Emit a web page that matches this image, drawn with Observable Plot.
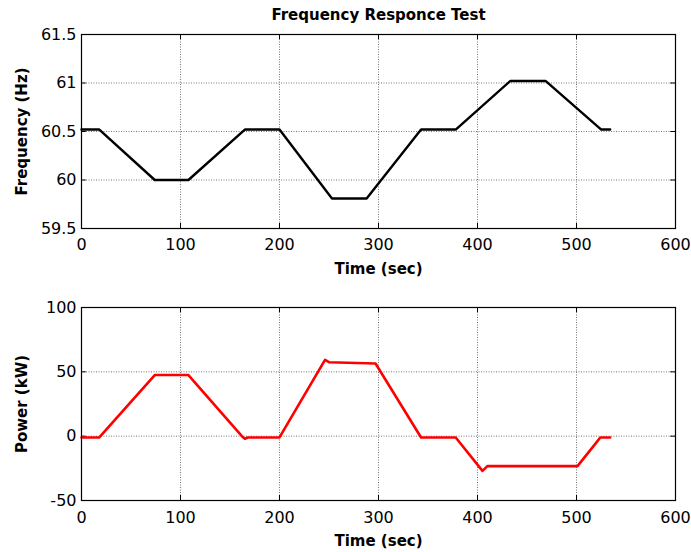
<!DOCTYPE html>
<html>
<head>
<meta charset="utf-8">
<script src="https://cdn.jsdelivr.net/npm/d3@7"></script>
<script src="https://cdn.jsdelivr.net/npm/@observablehq/plot@0.6"></script>
<style>
  html, body { margin: 0; padding: 0; background: #fff; }
  #chart svg { display: block; }
</style>
</head>
<body>
<div id="chart"></div>
<script>
const title = "Frequency Responce Test";
const xLabel = "Time (sec)";
const freqLabel = "Frequency (Hz)";
const powerLabel = "Power (kW)";

const xTicks = [0, 100, 200, 300, 400, 500, 600];
const freqTicks = [59.5, 60, 60.5, 61, 61.5];
const powerTicks = [-50, 0, 50, 100];

const freqTime = [0, 18, 74, 108, 165, 200, 253, 288, 343, 378, 433, 469, 525, 534];
const freqValue = [60.52, 60.52, 60.0, 60.0, 60.52, 60.52, 59.81, 59.81, 60.52, 60.52, 61.02, 61.02, 60.52, 60.52];

const powerTime = [0, 18, 74, 108, 162, 165, 168, 200, 246, 250, 297, 343, 378, 405, 410, 501, 520, 524, 534];
const powerValue = [-1, -1, 47.5, 47.5, 0, -2, -1, -1, 59.3, 57.5, 56.5, -1, -1, -27, -23.3, -23.3, -5, -1, -1];

const freqData = freqTime.map((t, i) => ({t, v: freqValue[i]}));
const powerData = powerTime.map((t, i) => ({t, v: powerValue[i]}));

const W = 691;
const FONT = "DejaVu Sans, Verdana, sans-serif";

function panel({data, yDomain, yTicks, yLabel, color, sw, height, mTop, mBottom, xPad, withTitle}) {
  const tickLenX = (yDomain[1] - yDomain[0]) * 0.026;
  const tickLenY = 600 * 0.008;
  const marks = [
    Plot.gridX(xTicks, {stroke: "#777", strokeOpacity: 1, strokeDasharray: "1,1.5", strokeWidth: 1}),
    Plot.gridY(yTicks, {stroke: "#777", strokeOpacity: 1, strokeDasharray: "1,1.5", strokeWidth: 1}),
    Plot.ruleX(xTicks, {x: d => d, y1: yDomain[0], y2: yDomain[0] + tickLenX, stroke: "#000"}),
    Plot.ruleX(xTicks, {x: d => d, y1: yDomain[1], y2: yDomain[1] - tickLenX, stroke: "#000"}),
    Plot.ruleY(yTicks, {y: d => d, x1: 0, x2: tickLenY, stroke: "#000"}),
    Plot.ruleY(yTicks, {y: d => d, x1: 600, x2: 600 - tickLenY, stroke: "#000"}),
    Plot.axisX(xTicks, {tickSize: 0, tickPadding: xPad, label: null, fontSize: 16, fill: "#000", tickFormat: d => String(d)}),
    Plot.axisY(yTicks, {tickSize: 0, tickPadding: 5, label: null, fontSize: 16, fill: "#000", tickFormat: d => String(d)}),
    Plot.line(data, {x: "t", y: "v", stroke: color, strokeWidth: sw, strokeLinejoin: "round"}),
    Plot.frame({stroke: "#000", strokeWidth: 1.2}),
    Plot.text([xLabel], {frameAnchor: "bottom", dy: 45, text: d => d, fontSize: 15, fontWeight: "bold", fill: "#000"}),
    Plot.text([yLabel], {frameAnchor: "left", dx: -59, rotate: -90, textAnchor: "middle", text: d => d, fontSize: 15, fontWeight: "bold", fill: "#000"})
  ];
  if (withTitle) {
    marks.push(Plot.text([title], {frameAnchor: "top", dy: -25, text: d => d, fontSize: 15, fontWeight: "bold", fill: "#000"}));
  }
  return Plot.plot({
    width: W,
    height,
    marginLeft: 81,
    marginRight: 16,
    marginTop: mTop,
    marginBottom: mBottom,
    style: {fontFamily: FONT, background: "#fff", overflow: "visible"},
    x: {domain: [0, 600]},
    y: {domain: yDomain},
    marks
  });
}

const topPanel = panel({
  data: freqData, yDomain: [59.5, 61.5], yTicks: freqTicks, yLabel: freqLabel,
  color: "#000", sw: 2.4, height: 276, mTop: 34, mBottom: 48, xPad: 10, withTitle: true
});
const bottomPanel = panel({
  data: powerData, yDomain: [-50, 100], yTicks: powerTicks, yLabel: powerLabel,
  color: "#ff0000", sw: 2.6, height: 276, mTop: 31, mBottom: 52, xPad: 11, withTitle: false
});
document.getElementById("chart").append(topPanel, bottomPanel);
</script>
</body>
</html>
